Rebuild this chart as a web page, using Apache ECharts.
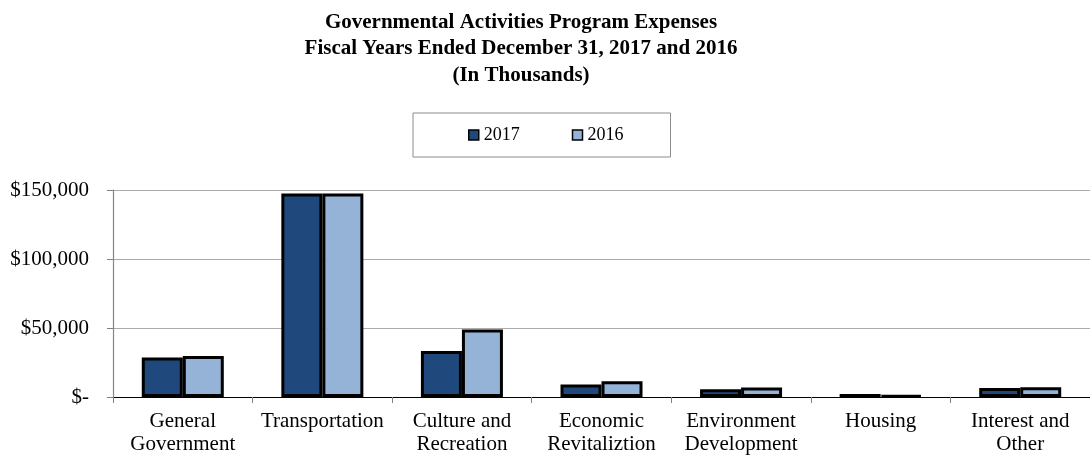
<!DOCTYPE html>
<html>
<head>
<meta charset="utf-8">
<style>
  html, body { margin: 0; padding: 0; background: #fff; }
  #chart { width: 1090px; height: 457px; }
</style>
<script src="https://cdn.jsdelivr.net/npm/echarts@6/dist/echarts.min.js"></script>
</head>
<body>
<div id="chart"></div>
<script>
const titleLines = [
  'Governmental Activities Program Expenses',
  'Fiscal Years Ended December 31, 2017 and 2016',
  '(In Thousands)'
];
const categories = [
  'General\nGovernment',
  'Transportation',
  'Culture and\nRecreation',
  'Economic\nRevitaliztion',
  'Environment\nDevelopment',
  'Housing',
  'Interest and\nOther'
];
const seriesNames = ['2017', '2016'];
const values2017 = [28600, 147500, 33400, 9000, 5600, 2200, 6500];
const values2016 = [29700, 147400, 48900, 11400, 6800, 1000, 7000];
const yTicks = [0, 50000, 100000, 150000];
const yTickLabels = ['$-', '$50,000', '$100,000', '$150,000'];

const FONT = '"Liberation Serif", "Times New Roman", serif';
const chart = echarts.init(document.getElementById('chart'), null, { renderer: 'canvas' });

const option = {
  backgroundColor: '#ffffff',
  animation: false,
  title: {
    text: titleLines.join('\n'),
    left: 521,
    top: 9,
    padding: 0,
    textAlign: 'center',
    textStyle: {
      fontFamily: FONT,
      fontWeight: 'bold',
      fontSize: 21,
      lineHeight: 26.5,
      color: '#000'
    }
  },
  legend: {
    data: seriesNames,
    left: 413,
    top: 113,
    padding: [13, 47, 13, 55],
    borderColor: '#8c8c8c',
    borderWidth: 1,
    itemGap: 52,
    itemWidth: 10,
    itemHeight: 10,
    icon: 'rect',
    itemStyle: { borderColor: '#000', borderWidth: 1.5 },
    textStyle: { fontFamily: FONT, fontSize: 18, color: '#000' }
  },
  grid: {
    left: 113,
    top: 190,
    width: 980,
    bottom: 60,
    containLabel: false
  },
  xAxis: {
    type: 'category',
    data: categories,
    boundaryGap: true,
    axisLine: { show: true, lineStyle: { color: '#000', width: 1.2 } },
    axisTick: { show: true, length: 6, lineStyle: { color: '#808080' } },
    axisLabel: {
      interval: 0,
      margin: 13.5,
      fontFamily: FONT,
      fontSize: 21,
      lineHeight: 22.5,
      color: '#000'
    },
    splitLine: { show: false }
  },
  yAxis: {
    type: 'value',
    min: yTicks[0],
    max: yTicks[yTicks.length - 1],
    interval: yTicks[1] - yTicks[0],
    axisLine: { show: true, lineStyle: { color: '#868686', width: 1.2 } },
    axisTick: { show: true, length: 6, lineStyle: { color: '#808080' } },
    axisLabel: {
      margin: 24,
      fontFamily: FONT,
      fontSize: 21,
      color: '#000',
      formatter: function (v) {
        const i = yTicks.indexOf(v);
        return i >= 0 ? yTickLabels[i] : '';
      }
    },
    splitLine: { show: true, lineStyle: { color: '#ababab', width: 1.2 } }
  },
  series: [
    {
      name: seriesNames[0],
      type: 'bar',
      data: values2017,
      barWidth: 41,
      barGap: '0%',
      itemStyle: { color: '#1F497D', borderColor: '#000', borderWidth: 3 }
    },
    {
      name: seriesNames[1],
      type: 'bar',
      data: values2016,
      barWidth: 41,
      barGap: '0%',
      itemStyle: { color: '#95B3D7', borderColor: '#000', borderWidth: 3 }
    }
  ]
};
chart.setOption(option);
</script>
</body>
</html>
